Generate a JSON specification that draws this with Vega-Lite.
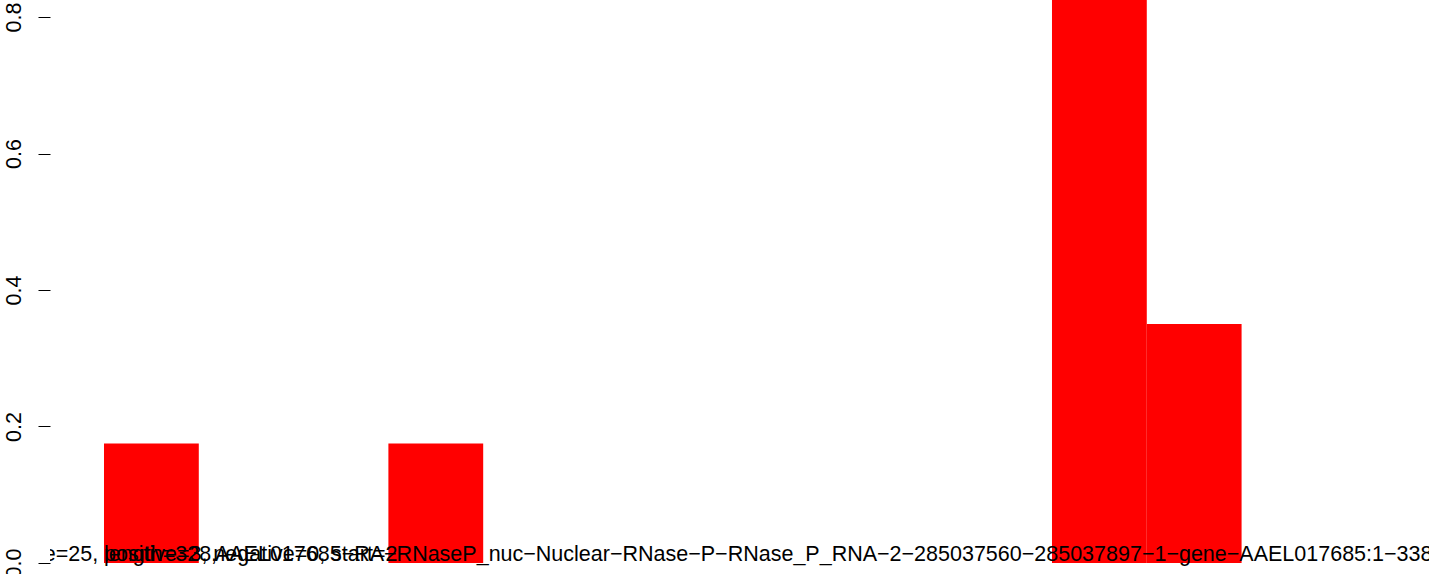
{
  "$schema": "https://vega.github.io/schema/vega-lite/v6.json",
  "width": 1379,
  "height": 574,
  "autosize": "none",
  "padding": {"left": 50, "top": 0, "right": 0, "bottom": 0},
  "background": "white",
  "config": {"view": {"stroke": null}, "font": "Liberation Sans"},
  "layer": [
    {
      "data": {"values": [
        {"bin_start": 0, "bin_end": 1, "density": 0.175},
        {"bin_start": 1, "bin_end": 2, "density": 0},
        {"bin_start": 2, "bin_end": 3, "density": 0},
        {"bin_start": 3, "bin_end": 4, "density": 0.175},
        {"bin_start": 4, "bin_end": 5, "density": 0},
        {"bin_start": 5, "bin_end": 6, "density": 0},
        {"bin_start": 6, "bin_end": 7, "density": 0},
        {"bin_start": 7, "bin_end": 8, "density": 0},
        {"bin_start": 8, "bin_end": 9, "density": 0},
        {"bin_start": 9, "bin_end": 10, "density": 0},
        {"bin_start": 10, "bin_end": 11, "density": 0.875},
        {"bin_start": 11, "bin_end": 12, "density": 0.35},
        {"bin_start": 12, "bin_end": 13, "density": 0},
        {"bin_start": 13, "bin_end": 14, "density": 0}
      ]},
      "mark": {"type": "rect", "color": "#ff0000", "clip": true},
      "encoding": {
        "x": {"field": "bin_start", "type": "quantitative",
              "scale": {"domain": [-0.5696, 13.977], "nice": false, "zero": false},
              "axis": null},
        "x2": {"field": "bin_end"},
        "y": {"field": "density", "type": "quantitative",
              "scale": {"domain": [-0.01612, 0.82491], "nice": false, "zero": false},
              "axis": {"values": [0, 0.2, 0.4, 0.6, 0.8], "format": ".1f", "domain": false,
                       "grid": false, "ticks": true, "tickSize": 12, "tickColor": "#000000",
                       "tickWidth": 1, "labelAngle": -90, "labelAlign": "center",
                       "labelBaseline": "alphabetic", "labelPadding": 18,
                       "labelFontSize": 21.5, "labelColor": "#000000",
                       "labelFont": "Liberation Sans", "title": null,
                       "labelOverlap": false, "labelBound": false, "labelFlush": false}},
        "y2": {"datum": 0}
      }
    },
    {
      "mark": {"type": "rule", "color": "#555555", "strokeWidth": 1, "clip": true},
      "encoding": {"x": {"datum": 0}, "x2": {"datum": 14}, "y": {"datum": 0}}
    },
    {
      "mark": {"type": "rule", "color": "#000000", "strokeWidth": 1},
      "encoding": {"x": {"datum": -0.5696}, "y": {"datum": 0}, "y2": {"datum": 0.8}}
    },
    {
      "data": {"values": [{"label": "size=25, length=328,"}]},
      "mark": {"type": "text", "align": "left", "baseline": "alphabetic", "fontSize": 21.5, "font": "Liberation Sans", "color": "#000000", "clip": true, "dy": -2},
      "encoding": {"x": {"datum": -0.913}, "y": {"datum": 0}, "text": {"field": "label"}}
    },
    {
      "data": {"values": [{"label": "positive=3, negative=0, start=2"}]},
      "mark": {"type": "text", "align": "left", "baseline": "alphabetic", "fontSize": 21.5, "font": "Liberation Sans", "color": "#000000", "clip": true, "dy": -2},
      "encoding": {"x": {"datum": 0}, "y": {"datum": 0}, "text": {"field": "label"}}
    },
    {
      "data": {"values": [{"label": "AAEL017685−RA−RNaseP_nuc−Nuclear−RNase−P−RNase_P_RNA−2−285037560−285037897−1−gene−AAEL017685:1−338"}]},
      "mark": {"type": "text", "align": "left", "baseline": "alphabetic", "fontSize": 21.5, "font": "Liberation Sans", "color": "#000000", "clip": true, "dy": -2},
      "encoding": {"x": {"datum": 1.17}, "y": {"datum": 0}, "text": {"field": "label"}}
    }
  ]
}
